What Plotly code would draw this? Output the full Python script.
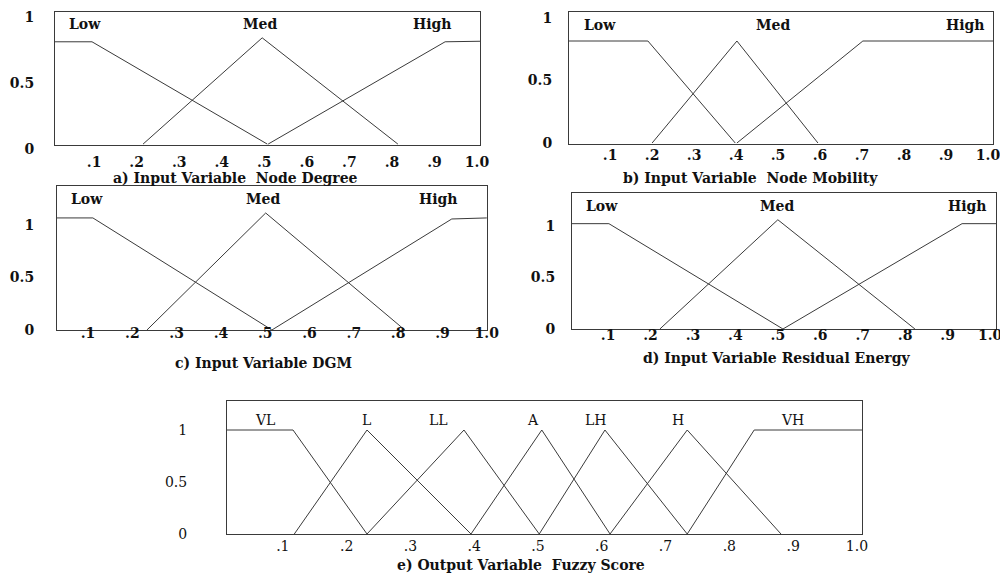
import plotly.graph_objects as go

# page body has an 8px margin: the figure is drawn 8px in from the window corner
OFF = 8
W, H = 1008 - OFF, 579 - OFF

# ---------------- data (membership functions) -------------
a_low_x = [0.008, 0.095, 0.507]
a_low_y = [0.776, 0.776, 0.0]
a_med_x = [0.215, 0.495, 0.814]
a_med_y = [0.0, 0.806, 0.0]
a_high_x = [0.509, 0.925, 1.007]
a_high_y = [0.0, 0.776, 0.78]

b_low_x = [0.002, 0.19, 0.398]
b_low_y = [0.816, 0.816, 0.0]
b_med_x = [0.2, 0.402, 0.595]
b_med_y = [0.0, 0.816, 0.0]
b_high_x = [0.402, 0.702, 1.012]
b_high_y = [0.0, 0.816, 0.816]

c_low_x = [0.03, 0.111, 0.515]
c_low_y = [1.067, 1.067, 0.0]
c_med_x = [0.233, 0.501, 0.815]
c_med_y = [0.0, 1.114, 0.0]
c_high_x = [0.515, 0.921, 1.0]
c_high_y = [0.0, 1.057, 1.067]

d_low_x = [0.015, 0.102, 0.512]
d_low_y = [1.02, 1.02, 0.0]
d_med_x = [0.222, 0.5, 0.823]
d_med_y = [0.0, 1.058, 0.0]
d_high_x = [0.512, 0.934, 1.014]
d_high_y = [0.0, 1.02, 1.02]

e_vl_x = [0.0125, 0.116, 0.232]
e_vl_y = [1.0, 1.0, 0.0]
e_l_x = [0.118, 0.232, 0.395]
e_l_y = [0.0, 1.0, 0.0]
e_ll_x = [0.232, 0.384, 0.502]
e_ll_y = [0.0, 1.0, 0.0]
e_a_x = [0.395, 0.506, 0.613]
e_a_y = [0.0, 1.0, 0.0]
e_lh_x = [0.502, 0.605, 0.734]
e_lh_y = [0.0, 1.0, 0.0]
e_h_x = [0.613, 0.734, 0.881]
e_h_y = [0.0, 1.0, 0.0]
e_vh_x = [0.734, 0.839, 1.008]
e_vh_y = [0.0, 1.0, 1.0]

x_tick_vals = [0.1, 0.2, 0.3, 0.4, 0.5, 0.6, 0.7, 0.8, 0.9, 1.0]
x_tick_text = [".1", ".2", ".3", ".4", ".5", ".6", ".7", ".8", ".9", "1.0"]
y_tick_vals = [0, 0.5, 1]
y_tick_text = ["0", "0.5", "1"]

titles = ["a) Input Variable  Node Degree",
          "b) Input Variable  Node Mobility",
          "c) Input Variable DGM",
          "d) Input Variable Residual Energy",
          "e) Output Variable  Fuzzy Score"]
input_sets = ["Low", "Med", "High"]
output_sets = ["VL", "L", "LL", "A", "LH", "H", "VH"]

# ---------------- layout geometry (window pixels) ----------------
LINE = "#3a3a3a"
FONT = "DejaVu Serif"


def fx(p):
    return (p - OFF) / W


def fy(p):
    return 1 - (p - OFF) / H


panels = [
    dict(box=(55, 480, 12, 145), xr=[0.008, 1.007], yr=[-0.007, 1.002], xs=4, ys=17, ysh=5,
         bold=True,
         traces=[(a_low_x, a_low_y), (a_med_x, a_med_y), (a_high_x, a_high_y)],
         labels=list(zip(input_sets, [85, 260, 432], [24, 24, 24])), title=(235, 178)),
    dict(box=(569, 993, 12, 144), xr=[0.002, 1.012], yr=[-0.008, 1.048], xs=-2, ys=13, ysh=0,
         bold=True,
         traces=[(b_low_x, b_low_y), (b_med_x, b_med_y), (b_high_x, b_high_y)],
         labels=list(zip(input_sets, [600, 773, 965], [25, 25, 25])), title=(750, 178)),
    dict(box=(57, 487, 186, 330), xr=[0.03, 1.0005], yr=[0.0, 1.371], xs=-10, ys=19, ysh=0,
         bold=True,
         traces=[(c_low_x, c_low_y), (c_med_x, c_med_y), (c_high_x, c_high_y)],
         labels=list(zip(input_sets, [87, 263, 438], [199, 199, 199])), title=(263, 363)),
    dict(box=(572, 996, 193, 329), xr=[0.015, 1.014], yr=[0.0, 1.317], xs=-7, ys=13, ysh=0,
         bold=True,
         traces=[(d_low_x, d_low_y), (d_med_x, d_med_y), (d_high_x, d_high_y)],
         labels=list(zip(input_sets, [602, 777, 967], [206, 206, 206])), title=(777, 358)),
    dict(box=(227, 862, 401, 534), xr=[0.0125, 1.008], yr=[0.0, 1.279], xs=-1, ys=36, ysh=0,
         bold=False,
         traces=[(e_vl_x, e_vl_y), (e_l_x, e_l_y), (e_ll_x, e_ll_y), (e_a_x, e_a_y),
                 (e_lh_x, e_lh_y), (e_h_x, e_h_y), (e_vh_x, e_vh_y)],
         labels=list(zip(output_sets, [265, 366, 438, 533, 596, 678, 792], [420] * 7)),
         title=(521, 565)),
]

fig = go.Figure()
annotations = []
layout = {}

for i, p in enumerate(panels):
    n = "" if i == 0 else str(i + 1)
    x0, x1, y0, y1 = p["box"]
    weight = "bold" if p["bold"] else "normal"
    fsize = 14
    for xs, ys in p["traces"]:
        fig.add_trace(go.Scatter(x=xs, y=ys, mode="lines", xaxis="x" + n, yaxis="y" + n,
                                 line=dict(color=LINE, width=1), hoverinfo="skip",
                                 showlegend=False))
    tf = dict(family=FONT, size=fsize, color="#111111", weight=weight)
    layout["xaxis" + n] = dict(domain=[fx(x0), fx(x1)], range=p["xr"], anchor="y" + n,
                               showgrid=False, zeroline=False, showline=True, mirror=True,
                               linecolor=LINE, linewidth=1, ticks="", automargin=False,
                               tickvals=x_tick_vals, ticktext=x_tick_text, tickfont=tf,
                               ticklabelstandoff=p["xs"], ticklabeloverflow="allow",
                               fixedrange=True)
    layout["yaxis" + n] = dict(domain=[fy(y1), fy(y0)], range=p["yr"], anchor="x" + n,
                               showgrid=False, zeroline=False, showline=True, mirror=True,
                               linecolor=LINE, linewidth=1, ticks="", automargin=False,
                               tickvals=y_tick_vals, ticktext=y_tick_text, tickfont=tf,
                               ticklabelstandoff=p["ys"], ticklabelshift=p["ysh"],
                               ticklabeloverflow="allow", fixedrange=True)
    for txt, lx, ly in p["labels"]:
        annotations.append(dict(text=txt, x=fx(lx), y=fy(ly), xref="paper", yref="paper",
                                showarrow=False, xanchor="center", yanchor="middle",
                                font=tf))
    tx, ty = p["title"]
    annotations.append(dict(text=titles[i], x=fx(tx), y=fy(ty), xref="paper", yref="paper",
                            showarrow=False, xanchor="center", yanchor="middle",
                            font=dict(family=FONT, size=14, color="#111111", weight="bold")))

fig.update_layout(width=W, height=H, margin=dict(l=0, r=0, t=0, b=0),
                  paper_bgcolor="white", plot_bgcolor="white", showlegend=False,
                  annotations=annotations, **layout)

fig.write_html("out.html")
